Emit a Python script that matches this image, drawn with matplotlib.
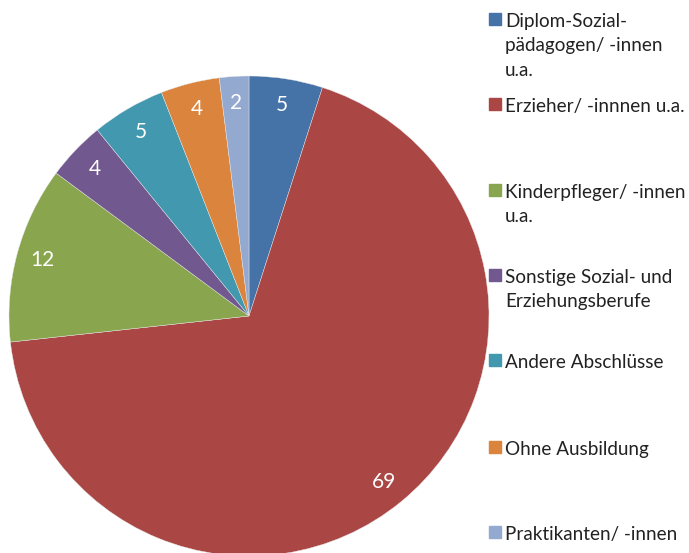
import matplotlib.pyplot as plt
from matplotlib.patches import Rectangle

# data
categories = [
    "Diplom-Sozial-\npädagogen/ -innen\nu.a.",
    "Erzieher/ -innnen u.a.",
    "Kinderpfleger/ -innen\nu.a.",
    "Sonstige Sozial- und\nErziehungsberufe",
    "Andere Abschlüsse",
    "Ohne Ausbildung",
    "Praktikanten/ -innen",
]
values = [5, 69, 12, 4, 5, 4, 2]
colors = ["#4572A7", "#AA4643", "#89A54E", "#71588F", "#4198AF", "#DB843D", "#93A9CF"]

W, H = 689, 553
plt.rcParams["font.family"] = ["Lato", "DejaVu Sans"]

fig = plt.figure(figsize=(W / 100, H / 100), dpi=100)
ax = fig.add_axes([0, 0, 1, 1])

wedges, texts = ax.pie(
    values,
    colors=colors,
    startangle=90,
    counterclock=False,
    center=(249, H - 316),
    radius=240,
    labels=[str(v) for v in values],
    labeldistance=0.89,
    wedgeprops=dict(edgecolor="#e8e8e8", linewidth=0.3),
    textprops=dict(color="white", fontsize=15),
    frame=True,
)
for t in texts:
    t.set_ha("center")
    t.set_va("center")
ax.axis("off")
ax.set_xlim(0, W)
ax.set_ylim(0, H)
ax.set_aspect("equal")

# legend drawn by hand (first-line baselines in pixels from top)
baselines = [27, 112, 198, 283, 368, 455, 540]
line_gap = 24.5
for lab, col, yb in zip(categories, colors, baselines):
    ax.add_patch(Rectangle((489, H - yb + 2), 12, 12, color=col, clip_on=False))
    for i, line in enumerate(lab.split("\n")):
        ax.text(505, H - yb - i * line_gap, line, fontsize=13.6, color="#222222",
                ha="left", va="baseline")

fig.savefig("out.png", dpi=100)
